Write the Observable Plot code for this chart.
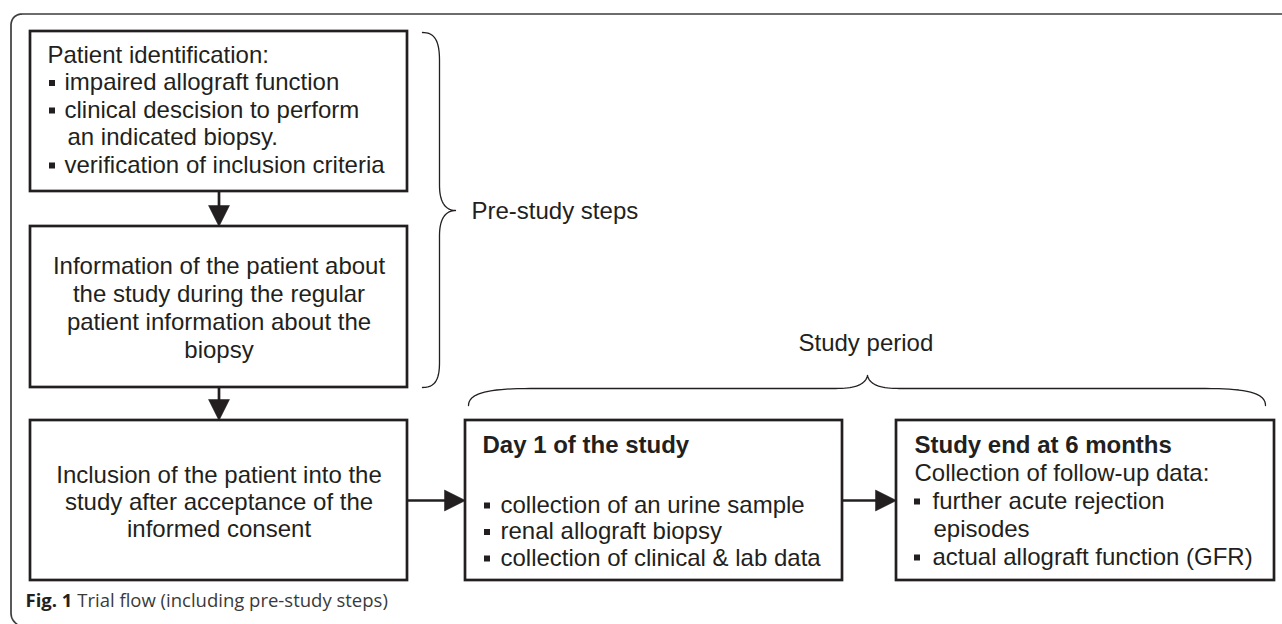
<!DOCTYPE html>
<html><head><meta charset="utf-8">
<script src="https://cdn.jsdelivr.net/npm/d3@7"></script>
<script src="https://cdn.jsdelivr.net/npm/@observablehq/plot@0.6"></script>
<style>
html,body{margin:0;padding:0;background:#fff;overflow:hidden;}
#chart svg{display:block;}
</style></head><body><div id="chart"></div>
<script>
// ---- content (text data) ----
const box1Heading = "Patient identification:";
const box1Items = [["impaired allograft function"], ["clinical descision to perform", "an indicated biopsy."], ["verification of inclusion criteria"]];
const box2Lines = ["Information of the patient about", "the study during the regular", "patient information about the", "biopsy"];
const box3Lines = ["Inclusion of the patient into the", "study after acceptance of the", "informed consent"];
const box4Title = "Day 1 of the study";
const box4Items = [["collection of an urine sample"], ["renal allograft biopsy"], ["collection of clinical & lab data"]];
const box5Title = "Study end at 6 months";
const box5Heading = "Collection of follow-up data:";
const box5Items = [["further acute rejection", "episodes"], ["actual allograft function (GFR)"]];
const preStudyLabel = "Pre-study steps";
const studyPeriodLabel = "Study period";
const figLabel = "Fig. 1";
const figTitle = "Trial flow (including pre-study steps)";

// ---- layout (pixel geometry) ----
const W = 1282, H = 624;
const INK = "#231f20";
const FS = 24;
const boxGeom = [
  {x1: 30, x2: 407, y1: 31, y2: 191},
  {x1: 30, x2: 407, y1: 226, y2: 387},
  {x1: 30, x2: 407, y1: 420, y2: 580},
  {x1: 465, x2: 842, y1: 420, y2: 580},
  {x1: 896, x2: 1274, y1: 420, y2: 580}
];

function bez(p0, p1, p2, p3, n = 18) {
  const out = [];
  for (let i = 0; i <= n; i++) {
    const t = i / n, u = 1 - t;
    out.push([
      u*u*u*p0[0] + 3*u*u*t*p1[0] + 3*u*t*t*p2[0] + t*t*t*p3[0],
      u*u*u*p0[1] + 3*u*u*t*p1[1] + 3*u*t*t*p2[1] + t*t*t*p3[1]
    ]);
  }
  return out;
}
const toPts = (arr, id) => arr.map(([x, y]) => ({x, y, id}));

// outer frame (open on the right / bottom)
const framePts = toPts([
  [W + 5, 13.5], [22, 13.5],
  ...bez([22, 13.5], [15, 13.5], [10.5, 18], [10.5, 25]),
  [10.5, 612],
  ...bez([10.5, 612], [10.5, 619], [14, 623], [22, 627])
], "frame");

// braces
const braceV = toPts([
  ...bez([422, 32], [434, 32], [439, 40], [439, 60]),
  [439, 185],
  ...bez([439, 185], [439, 203], [446, 210], [455, 210]),
  ...bez([455, 210], [446, 210], [439, 217], [439, 235]),
  [439, 362],
  ...bez([439, 362], [439, 380], [434, 387], [422, 387])
], "pre");
const braceH = toPts([
  ...bez([468, 405], [468, 392], [490, 388], [530, 388]),
  [835, 388],
  ...bez([835, 388], [855, 388], [865, 384], [867, 375]),
  ...bez([867, 375], [869, 384], [879, 388], [899, 388]),
  [1205, 388],
  ...bez([1205, 388], [1245, 388], [1265, 392], [1265, 405])
], "period");

// arrows: connect boxes
const arrows = [
  {x1: 218.5, y1: boxGeom[0].y2, x2: 218.5, y2: boxGeom[1].y1},
  {x1: 218.5, y1: boxGeom[1].y2, x2: 218.5, y2: boxGeom[2].y1},
  {x1: boxGeom[2].x2, y1: 500, x2: boxGeom[3].x1, y2: 500},
  {x1: boxGeom[3].x2, y1: 500, x2: boxGeom[4].x1, y2: 500}
];
const HEAD_L = 21, HEAD_W = 10.5;
const heads = [];
arrows.forEach((a, i) => {
  const dx = a.x2 - a.x1, dy = a.y2 - a.y1, len = Math.hypot(dx, dy);
  const ux = dx / len, uy = dy / len;
  const bx = a.x2 - ux * HEAD_L, by = a.y2 - uy * HEAD_L;
  const pts = [[a.x2, a.y2], [bx - uy * HEAD_W, by + ux * HEAD_W], [bx + uy * HEAD_W, by - ux * HEAD_W], [a.x2, a.y2]];
  pts.forEach(([x, y]) => heads.push({x, y, id: i}));
  a.sx2 = bx + ux * 2; a.sy2 = by + uy * 2;
});

// text rows
const leftRows = [], centerRows = [], boldRows = [], bullets = [];
const addBullet = (cx, base) => bullets.push({x1: cx - 3, x2: cx + 3, y1: base - 9.5, y2: base - 3.5});

// box 1
{
  let y = 62; const lh = 27.5;
  leftRows.push({x: 47, y, t: box1Heading}); y += lh;
  box1Items.forEach(item => {
    addBullet(52, y);
    item.forEach((ln, j) => { leftRows.push({x: j ? 67 : 64, y, t: ln}); y += lh; });
  });
}
// box 2, 3 (centered)
box2Lines.forEach((t, i) => centerRows.push({x: 218.5, y: 273 + 28 * i, t}));
box3Lines.forEach((t, i) => centerRows.push({x: 218.5, y: 482 + 27 * i, t}));
// box 4
boldRows.push({x: 482, y: 452, t: box4Title});
box4Items.forEach((item, i) => {
  const y = 512 + 26.5 * i;
  addBullet(487, y);
  item.forEach(ln => leftRows.push({x: 500, y, t: ln}));
});
// box 5
boldRows.push({x: 914, y: 452, t: box5Title});
leftRows.push({x: 914, y: 480, t: box5Heading});
{
  let y = 508; const lh = 28;
  box5Items.forEach(item => {
    addBullet(917, y);
    item.forEach((ln, j) => { leftRows.push({x: j ? 933 : 932, y, t: ln}); y += lh; });
  });
}
// brace labels
leftRows.push({x: 471, y: 218, t: preStudyLabel});
leftRows.push({x: 798, y: 350, t: studyPeriodLabel});

// caption
const CAP_FS = 18.5, CAP_FONT = "'Open Sans', sans-serif";
const ctx = document.createElement("canvas").getContext("2d");
ctx.font = `bold ${CAP_FS}px 'Open Sans'`;
const figW = ctx.measureText(figLabel).width;
ctx.font = `${CAP_FS}px 'Open Sans'`;
const spW = ctx.measureText(" ").width;
const capX = 25, capY = 606;

const chart = Plot.plot({
  width: W, height: H, margin: 0,
  x: {domain: [0, W], range: [0, W], axis: null},
  y: {domain: [0, H], range: [0, H], axis: null},
  style: {background: "#fff", fontFamily: "'Liberation Sans', Arial, sans-serif", overflow: "visible"},
  marks: [
    Plot.line(framePts, {x: "x", y: "y", stroke: "#3d3d3d", strokeWidth: 1.7}),
    Plot.rect(boxGeom, {x1: "x1", x2: "x2", y1: "y1", y2: "y2", fill: "white", stroke: INK, strokeWidth: 2.7}),
    Plot.line([...braceV, ...braceH], {x: "x", y: "y", z: "id", stroke: INK, strokeWidth: 1.3}),
    Plot.link(arrows, {x1: "x1", y1: "y1", x2: "sx2", y2: "sy2", stroke: INK, strokeWidth: 2.7}),
    Plot.line(heads, {x: "x", y: "y", z: "id", fill: INK, stroke: INK, strokeWidth: 0.5}),
    Plot.rect(bullets, {x1: "x1", x2: "x2", y1: "y1", y2: "y2", fill: INK}),
    Plot.text(leftRows, {x: "x", y: "y", text: "t", textAnchor: "start", lineAnchor: "bottom", fontSize: FS, fill: INK}),
    Plot.text(centerRows, {x: "x", y: "y", text: "t", textAnchor: "middle", lineAnchor: "bottom", fontSize: FS, fill: INK}),
    Plot.text(boldRows, {x: "x", y: "y", text: "t", textAnchor: "start", lineAnchor: "bottom", fontSize: FS, fontWeight: "bold", fill: INK}),
    Plot.text([{x: capX, y: capY, t: figLabel}], {x: "x", y: "y", text: "t", textAnchor: "start", lineAnchor: "bottom", fontSize: CAP_FS, fontWeight: "bold", fontFamily: CAP_FONT, fill: INK}),
    Plot.text([{x: capX + figW + spW, y: capY, t: figTitle}], {x: "x", y: "y", text: "t", textAnchor: "start", lineAnchor: "bottom", fontSize: CAP_FS, fontFamily: CAP_FONT, fill: "#3a3a3a"})
  ]
});
document.getElementById("chart").appendChild(chart);
</script></body></html>
